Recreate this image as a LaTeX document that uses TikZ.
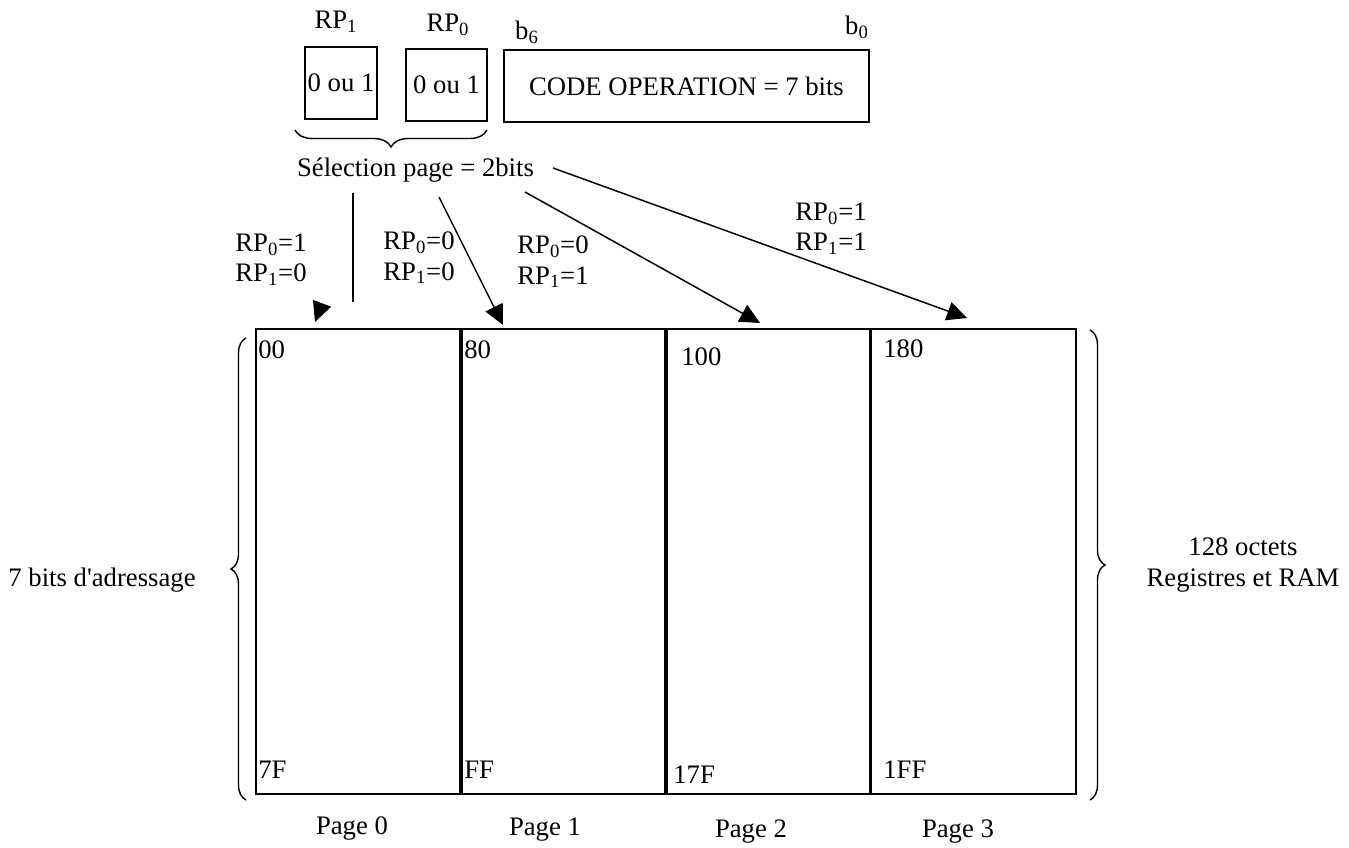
\documentclass[tikz,border=0pt]{standalone}
\usepackage{fontspec}
\setmainfont{Liberation Serif}
\usetikzlibrary{positioning,arrows.meta,decorations.pathreplacing}

\begin{document}
\begin{tikzpicture}[x=0.02cm,y=-0.02cm,
    font=\fontsize{15.2}{17.1}\selectfont,
    bitbox/.style={
      draw=black,
      line width=1pt,
      inner sep=0pt,
      minimum width=#1,
      minimum height=1.44cm
    },
    pagebox/.style={
      draw=black,
      line width=1.3pt,
      inner sep=0pt, outer sep=0pt,
      minimum width=4.1cm,
      minimum height=9.3cm
    },
    txt/.style={inner sep=0pt},
    addr/.style={anchor=west, inner sep=0pt},
    cond/.style={anchor=west, align=left, inner sep=0pt},
    selarrow/.style={-{Triangle[length=0.4cm,width=0.38cm]}, line width=0.85pt},
    accolade/.style={decorate, decoration={brace, amplitude=#1}, line width=0.8pt},
    accolade/.default=0.3cm
  ]

  \useasboundingbox (0,0) rectangle (1349,848);

  %% instruction word
  \node[bitbox=1.44cm] (rp1) at (341,83) {0 ou 1};
  \node[bitbox=1.62cm] (rp0) at (446.5,85) {0 ou 1};
  \node[bitbox=7.3cm] (code) at (686.5,86) {CODE OPERATION = 7 bits};

  \node[txt] (rp1lbl) at (336,22) {RP\textsubscript{1}};
  \node[txt] (rp0lbl) at (448,25) {RP\textsubscript{0}};
  \node[txt] (b6) at (527,32) {b\textsubscript{6}};
  \node[txt] (b0) at (857,27) {b\textsubscript{0}};

  % page select
  \draw[accolade=0.34cm] (487,130) -- (295,130);
  \node[txt] (sel) at (415.5,170) {Sélection page = 2bits};

  %% pages
  \node[pagebox] (page0) at (358.5,561.5) {};
  \node[pagebox, right=0pt of page0] (page1) {};
  \node[pagebox, right=0pt of page1] (page2) {};
  \node[pagebox, right=0pt of page2] (page3) {};
  \draw[line width=1.8pt] (page0.north east) -- (page0.south east);
  \draw[line width=1.8pt] (page1.north east) -- (page1.south east);
  \draw[line width=1.8pt] (page2.north east) -- (page2.south east);

  \node[addr] (a00) at (258,350) {00};
  \node[addr] (a80) at (464,350) {80};
  \node[addr] (a100) at (681,357) {100};
  \node[addr] (a180) at (883,349) {180};
  \node[addr] (a7F) at (258,770) {7F};
  \node[addr] (aFF) at (464,770) {FF};
  \node[addr] (a17F) at (673,775) {17F};
  \node[addr] (a1FF) at (883,770) {1FF};

  \node[txt] (p0) at (352,828) {Page 0};
  \node[txt] (p1) at (545,830) {Page 1};
  \node[txt] (p2) at (751,832) {Page 2};
  \node[txt] (p3) at (958,832) {Page 3};

  %% selection arrows
  \coordinate (s0) at (353,193);
  \coordinate (e0) at (353,302);
  \coordinate (h0s) at (321,306);
  \coordinate (h0) at (315,322);
  \coordinate (s1) at (439,197);
  \coordinate (h1) at (503,325);
  \coordinate (s2) at (525,192);
  \coordinate (h2) at (760,323);
  \coordinate (s3) at (553,168);
  \coordinate (h3) at (967,318);

  \draw[line width=0.85pt] (s0) -- (e0);
  \draw[selarrow] (h0s) -- (h0);
  \draw[selarrow] (s1) -- (h1);
  \draw[selarrow] (s2) -- (h2);
  \draw[selarrow] (s3) -- (h3);

  \node[cond] (c0) at (235,260) {RP\textsubscript{0}=1\\RP\textsubscript{1}=0};
  \node[cond] (c1) at (383,258) {RP\textsubscript{0}=0\\RP\textsubscript{1}=0};
  \node[cond] (c2) at (517,262) {RP\textsubscript{0}=0\\RP\textsubscript{1}=1};
  \node[cond] (c3) at (795,229) {RP\textsubscript{0}=1\\RP\textsubscript{1}=1};

  %% side braces
  \draw[accolade] (246,800) -- (246,338);
  \node[txt] (adr) at (102,580) {7 bits d\textquotesingle adressage};
  \draw[accolade] (1090,330) -- (1090,800);
  \node[txt, align=center] (ram) at (1243,565) {128 octets\\Registres et RAM};

\end{tikzpicture}
\end{document}
